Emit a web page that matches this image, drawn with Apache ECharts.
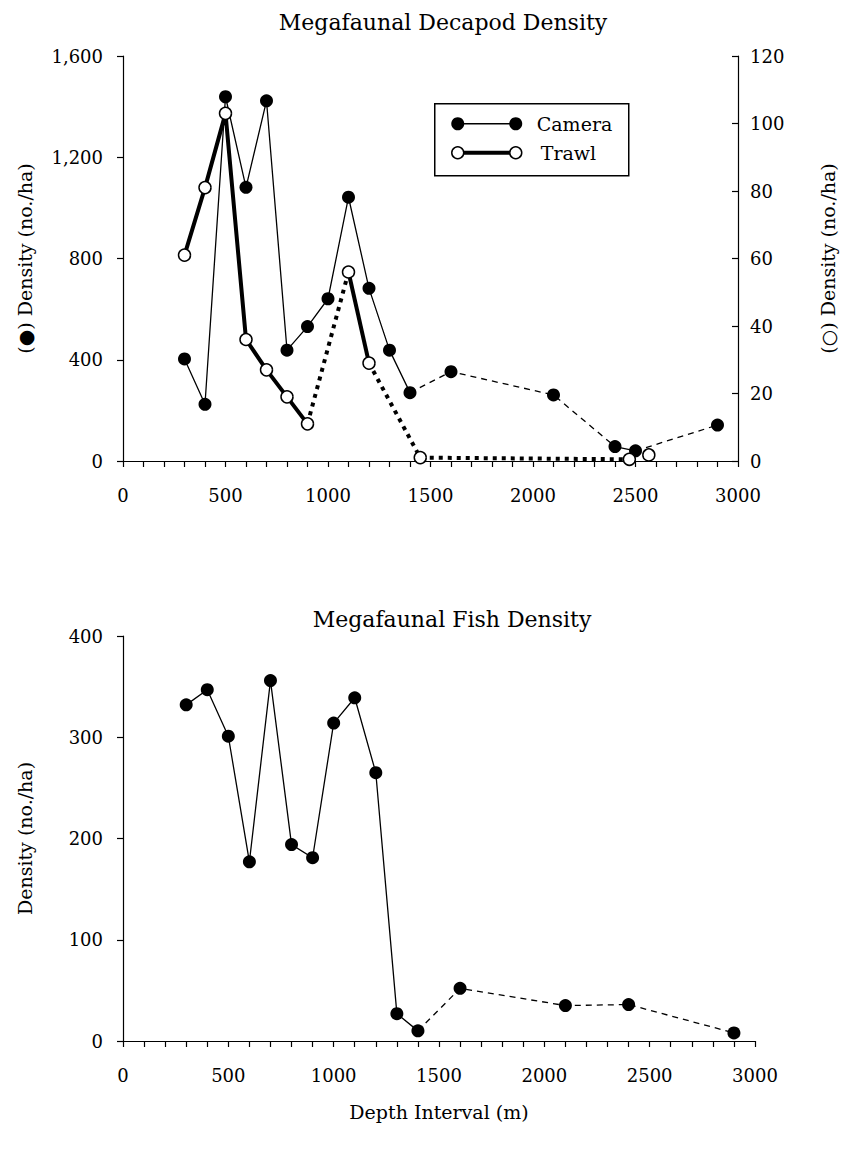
<!DOCTYPE html>
<html>
<head>
<meta charset="utf-8">
<title>Megafaunal Density</title>
<script src="https://cdn.jsdelivr.net/npm/echarts@6/dist/echarts.min.js"></script>
<style>
  html, body { margin: 0; padding: 0; background: #fff; }
  #chart { width: 848px; height: 1156px; }
</style>
</head>
<body>
<div id="chart"></div>
<script>
// Decapods counted from camera transects (left axis, no./ha)
const cameraDepth   = [300, 400, 500, 600, 700, 800, 900, 1000, 1100, 1200, 1300, 1400, 1600, 2100, 2400, 2500, 2900];
const cameraDensity = [403, 224, 1439, 1081, 1423, 438, 531, 641, 1042, 682, 438, 270, 353, 261, 57, 40, 142];
// style of the segment joining point i to point i+1
const cameraLinks   = ['solid', 'solid', 'solid', 'solid', 'solid', 'solid', 'solid', 'solid', 'solid', 'solid', 'solid',
                       'dashed', 'dashed', 'dashed', 'solid', 'dashed'];

// Decapods caught in trawls (right axis, no./ha)
const trawlDepth   = [300, 400, 500, 600, 700, 800, 900, 1100, 1200, 1450, 2470, 2565];
const trawlDensity = [61, 81, 103, 36, 27, 19, 11, 56, 29, 1, 0.5, 1.8];
const trawlLinks   = ['solid', 'solid', 'solid', 'solid', 'solid', 'solid', 'dotted', 'solid', 'dotted', 'dotted', null];

// Fish counted from camera transects (no./ha)
const fishDepth   = [300, 400, 500, 600, 700, 800, 900, 1000, 1100, 1200, 1300, 1400, 1600, 2100, 2400, 2900];
const fishDensity = [332, 347, 301, 177, 356, 194, 181, 314, 339, 265, 27, 10, 52, 35, 36, 8];
const fishLinks   = ['solid', 'solid', 'solid', 'solid', 'solid', 'solid', 'solid', 'solid', 'solid', 'solid', 'solid',
                     'dashed', 'dashed', 'dashed', 'dashed'];

// Axis ranges and tick steps
const depthRange = [0, 3000];
const depthStep = 100;
const depthLabelStep = 500;
const decapodRange = [0, 1600];
const decapodStep = 400;
const trawlRange = [0, 120];
const trawlStep = 20;
const fishRange = [0, 400];
const fishStep = 100;

const FONT = '"DejaVu Serif", "Liberation Serif", serif';
const INK = '#000';

// Group consecutive segments that share a line style into one polyline
function buildRuns(xs, ys, links) {
  const runs = [];
  for (let i = 0; i < links.length; i++) {
    const style = links[i];
    if (!style) continue;
    const last = runs[runs.length - 1];
    if (last && last.style === style && last.end === i) {
      last.points.push([xs[i + 1], ys[i + 1]]);
      last.end = i + 1;
    } else {
      runs.push({ style, end: i + 1, points: [[xs[i], ys[i]], [xs[i + 1], ys[i + 1]]] });
    }
  }
  return runs;
}

const thinStyles = {
  solid:  { color: INK, width: 1.3, type: 'solid', opacity: 1 },
  dashed: { color: INK, width: 1.3, type: [6, 5], opacity: 1 }
};
const thickStyles = {
  solid:  { color: INK, width: 4, type: 'solid', opacity: 1 },
  dotted: { color: INK, width: 4, type: [4, 5], cap: 'butt', opacity: 1 }
};

function lineSeries(runs, styles, xi, yi, z) {
  return runs.map(r => ({
    type: 'line',
    xAxisIndex: xi,
    yAxisIndex: yi,
    data: r.points,
    symbol: 'none',
    silent: true,
    lineStyle: styles[r.style],
    z
  }));
}

function zip(xs, ys) { return xs.map((x, i) => [x, ys[i]]); }

const axisLineStyle = { lineStyle: { color: INK, width: 1.2 } };
const tickStyle = { lineStyle: { color: INK, width: 1.2 } };
const labelStyle = { color: INK, fontFamily: FONT, fontSize: 18 };
const nameStyle = { color: INK, fontFamily: FONT, fontSize: 19 };

function depthAxis(gridIndex, withName) {
  const ax = {
    type: 'value',
    gridIndex,
    min: depthRange[0],
    max: depthRange[1],
    interval: depthStep,
    axisLine: axisLineStyle,
    axisTick: { show: true, inside: false, length: 6, ...tickStyle },
    axisLabel: {
      ...labelStyle,
      margin: 25,
      showMinLabel: true,
      showMaxLabel: true,
      formatter: v => (v % depthLabelStep === 0 ? String(v) : '')
    },
    splitLine: { show: false }
  };
  if (withName) {
    Object.assign(ax, {
      name: 'Depth Interval (m)',
      nameLocation: 'middle',
      nameGap: 61,
      nameTextStyle: nameStyle
    });
  }
  return ax;
}

const option = {
  backgroundColor: '#fff',
  animation: false,
  title: [
    {
      text: 'Megafaunal Decapod Density',
      left: 438, top: 6, textAlign: 'center',
      textStyle: { color: INK, fontFamily: FONT, fontSize: 22, fontWeight: 'normal' }
    },
    {
      text: 'Megafaunal Fish Density',
      left: 447, top: 603, textAlign: 'center',
      textStyle: { color: INK, fontFamily: FONT, fontSize: 22, fontWeight: 'normal' }
    }
  ],
  grid: [
    { left: 123, top: 56, width: 615, height: 405 },
    { left: 123, top: 636, width: 632, height: 405 }
  ],
  xAxis: [depthAxis(0, false), depthAxis(1, true)],
  yAxis: [
    {
      type: 'value', gridIndex: 0, position: 'left',
      min: decapodRange[0], max: decapodRange[1], interval: decapodStep,
      name: '(\u25CF) Density (no./ha)', nameLocation: 'middle', nameGap: 89, nameRotate: 90,
      nameTextStyle: nameStyle,
      axisLine: { show: true, ...axisLineStyle },
      axisTick: { show: true, inside: false, length: 6, ...tickStyle },
      axisLabel: { ...labelStyle, margin: 20, formatter: v => v.toLocaleString('en-US') },
      splitLine: { show: false }
    },
    {
      type: 'value', gridIndex: 0, position: 'right',
      min: trawlRange[0], max: trawlRange[1], interval: trawlStep,
      name: '(\u25CB) Density (no./ha)', nameLocation: 'middle', nameGap: 80, nameRotate: 90,
      nameTextStyle: nameStyle,
      axisLine: { show: true, ...axisLineStyle },
      axisTick: { show: true, inside: true, length: 6, ...tickStyle },
      axisLabel: { ...labelStyle, margin: 12 },
      splitLine: { show: false }
    },
    {
      type: 'value', gridIndex: 1, position: 'left',
      min: fishRange[0], max: fishRange[1], interval: fishStep,
      name: 'Density (no./ha)', nameLocation: 'middle', nameGap: 89, nameRotate: 90,
      nameTextStyle: nameStyle,
      axisLine: { show: true, ...axisLineStyle },
      axisTick: { show: true, inside: false, length: 6, ...tickStyle },
      axisLabel: { ...labelStyle, margin: 20 },
      splitLine: { show: false }
    }
  ],
  series: [
    ...lineSeries(buildRuns(cameraDepth, cameraDensity, cameraLinks), thinStyles, 0, 0, 2),
    {
      name: 'Camera', type: 'scatter', xAxisIndex: 0, yAxisIndex: 0,
      data: zip(cameraDepth, cameraDensity),
      symbol: 'circle', symbolSize: 13, silent: true,
      itemStyle: { color: INK, opacity: 1 }, z: 3
    },
    ...lineSeries(buildRuns(trawlDepth, trawlDensity, trawlLinks), thickStyles, 0, 1, 4),
    {
      name: 'Trawl', type: 'scatter', xAxisIndex: 0, yAxisIndex: 1,
      data: zip(trawlDepth, trawlDensity),
      symbol: 'circle', symbolSize: 12, silent: true,
      itemStyle: { color: '#fff', borderColor: INK, borderWidth: 1.5, opacity: 1 }, z: 5
    },
    ...lineSeries(buildRuns(fishDepth, fishDensity, fishLinks), thinStyles, 1, 2, 2),
    {
      name: 'Fish', type: 'scatter', xAxisIndex: 1, yAxisIndex: 2,
      data: zip(fishDepth, fishDensity),
      symbol: 'circle', symbolSize: 13, silent: true,
      itemStyle: { color: INK, opacity: 1 }, z: 3
    }
  ],
  // key for the decapod panel
  graphic: [
    {
      type: 'group', left: 434, top: 103, z: 20,
      children: [
        { type: 'rect', shape: { x: 0, y: 0, width: 194, height: 72 },
          style: { fill: '#fff', stroke: INK, lineWidth: 1.5 } },
        { type: 'line', shape: { x1: 23, y1: 20, x2: 81, y2: 20 },
          style: { stroke: INK, lineWidth: 1.3 } },
        { type: 'circle', shape: { cx: 23, cy: 20, r: 6.5 }, style: { fill: INK } },
        { type: 'circle', shape: { cx: 81, cy: 20, r: 6.5 }, style: { fill: INK } },
        { type: 'text', x: 102, y: 20,
          style: { text: 'Camera', font: '19px ' + FONT, fill: INK, verticalAlign: 'middle', textVerticalAlign: 'middle' } },
        { type: 'line', shape: { x1: 23, y1: 49, x2: 81, y2: 49 },
          style: { stroke: INK, lineWidth: 4 } },
        { type: 'circle', shape: { cx: 23, cy: 49, r: 6 }, style: { fill: '#fff', stroke: INK, lineWidth: 1.5 } },
        { type: 'circle', shape: { cx: 81, cy: 49, r: 6 }, style: { fill: '#fff', stroke: INK, lineWidth: 1.5 } },
        { type: 'text', x: 106, y: 49,
          style: { text: 'Trawl', font: '19px ' + FONT, fill: INK, verticalAlign: 'middle', textVerticalAlign: 'middle' } }
      ]
    }
  ]
};

const chart = echarts.init(document.getElementById('chart'), null, { renderer: 'svg', width: 848, height: 1156 });
chart.setOption(option);
</script>
</body>
</html>
